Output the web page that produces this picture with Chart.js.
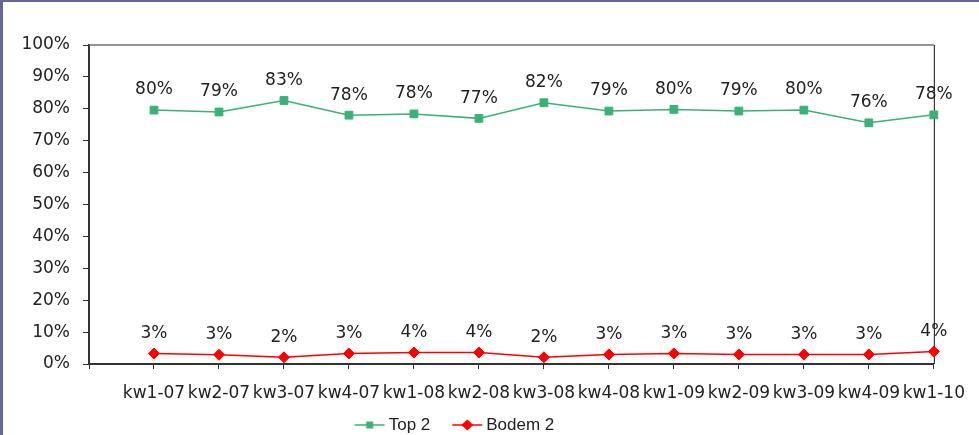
<!DOCTYPE html>
<html>
<head>
<meta charset="utf-8">
<script src="https://cdn.jsdelivr.net/npm/chart.js@4/dist/chart.umd.min.js"></script>
<style>
    html, body { margin: 0; padding: 0; background: #fff; overflow: hidden; }
    #wrap { position: relative; width: 979px; height: 435px; }
    #frame { position: absolute; left: 0; top: 0; width: 979px; height: 435px; box-sizing: border-box;
             border-left: 3px solid #66669a; border-top: 2px solid #66669a; pointer-events: none; }
</style>
</head>
<body>
<div id="wrap">
    <canvas id="chart" width="979" height="435"></canvas>
    <div id="frame"></div>
</div>
<script>
// Dados
const categories = ['kw1-07', 'kw2-07', 'kw3-07', 'kw4-07', 'kw1-08', 'kw2-08', 'kw3-08',
                    'kw4-08', 'kw1-09', 'kw2-09', 'kw3-09', 'kw4-09', 'kw1-10'];
const top2 = [79.6, 79.0, 82.6, 78.0, 78.4, 77.0, 81.9, 79.3, 79.8, 79.3, 79.6, 75.6, 78.1];
const bodem2 = [3.3, 2.9, 2.1, 3.3, 3.6, 3.6, 2.1, 3.0, 3.3, 3.0, 3.0, 3.0, 3.9];
const yTicks = [0, 10, 20, 30, 40, 50, 60, 70, 80, 90, 100];

const green = '#3bb273';
const red = '#ff0000';
const labelFont = '17px "DejaVu Sans"';

// primeira posição vazia (como no original, os pontos começam um passo depois do eixo)
const labels = [''].concat(categories);

// imagem da legenda: linha + marcador
const BW = 37.5;
function legendImage(color, marker) {
    const c = document.createElement('canvas');
    c.width = 64; c.height = 14;
    const g = c.getContext('2d');
    const cx = 32 + BW / 2;
    g.strokeStyle = color;
    g.globalAlpha = 0.75;
    g.lineWidth = 2;
    g.beginPath();
    g.moveTo(cx - 25.5, 7);
    g.lineTo(cx + 4.5, 7);
    g.stroke();
    g.globalAlpha = 1;
    g.fillStyle = color;
    const mx = cx - 10.5;
    if (marker === 'rect') {
        g.fillRect(mx - 3.5, 3.5, 7, 7);
    } else {
        g.beginPath();
        g.moveTo(mx - 6, 7); g.lineTo(mx, 1.5); g.lineTo(mx + 6, 7); g.lineTo(mx, 12.5);
        g.closePath(); g.fill();
    }
    return c;
}
const legendImgs = [legendImage(green, 'rect'), legendImage(red, 'diamond')];

// rótulos de valor acima dos pontos
const valueLabels = {
    id: 'valueLabels',
    afterDatasetsDraw(chart) {
        const ctx = chart.ctx;
        ctx.save();
        ctx.font = labelFont;
        ctx.fillStyle = '#222';
        ctx.textAlign = 'center';
        ctx.textBaseline = 'middle';
        chart.data.datasets.forEach((ds, i) => {
            chart.getDatasetMeta(i).data.forEach((pt, j) => {
                const v = ds.data[j];
                if (v == null) return;
                ctx.fillText(Math.round(v) + '%', pt.x, pt.y - 20);
            });
        });
        ctx.restore();
    }
};

// contorno superior e direito da área do gráfico
const plotBorder = {
    id: 'plotBorder',
    beforeDatasetsDraw(chart) {
        const a = chart.chartArea;
        const ctx = chart.ctx;
        ctx.save();
        ctx.lineWidth = 1.5;
        ctx.strokeStyle = '#707070';
        ctx.beginPath();
        ctx.moveTo(a.left, a.top);
        ctx.lineTo(a.right, a.top);
        ctx.stroke();
        ctx.lineWidth = 1;
        ctx.strokeStyle = '#111';
        ctx.beginPath();
        ctx.moveTo(a.right + 0.5, a.top);
        ctx.lineTo(a.right + 0.5, a.bottom);
        ctx.stroke();
        ctx.restore();
    }
};

const ctx = document.getElementById('chart').getContext('2d');
const chart = new Chart(ctx, {
    type: 'line',
    data: {
        labels: labels,
        datasets: [{
            label: 'Top 2',
            data: [null].concat(top2),
            borderColor: green,
            backgroundColor: green,
            borderWidth: 1.5,
            pointStyle: 'rect',
            pointRadius: 5.5,
            pointBorderWidth: 1,
            tension: 0
        }, {
            label: 'Bodem 2',
            data: [null].concat(bodem2),
            borderColor: red,
            backgroundColor: red,
            borderWidth: 1.5,
            pointStyle: 'rectRot',
            pointRadius: 5.5,
            pointBorderWidth: 1,
            tension: 0
        }]
    },
    options: {
        responsive: false,
        animation: false,
        layout: { padding: { top: 45, right: 39, left: -43, bottom: -8.5 } },
        scales: {
            x: {
                offset: false,
                grid: { drawOnChartArea: false, tickLength: 5, color: '#333', lineWidth: 1 },
                border: { color: '#333', width: 2 },
                ticks: { autoSkip: false, maxRotation: 0, padding: 14, color: '#222', font: { family: 'DejaVu Sans', size: 17 } },
                afterFit: s => { s.height = 42.5; }
            },
            y: {
                min: 0,
                max: 100,
                afterBuildTicks: s => { s.ticks = yTicks.map(v => ({ value: v })); },
                grid: { drawOnChartArea: false, tickLength: 6, color: '#333', lineWidth: 1 },
                border: { color: '#333', width: 2 },
                ticks: { padding: 13, color: '#222', font: { family: 'DejaVu Sans', size: 17 }, callback: v => v + '%' },
                afterFit: s => { s.width = 132; }
            }
        },
        plugins: {
            tooltip: { enabled: false },
            legend: {
                position: 'bottom',
                labels: {
                    usePointStyle: true,
                    pointStyleWidth: BW,
                    padding: 10,
                    color: '#222',
                    font: { family: 'Liberation Sans', size: 17 },
                    generateLabels: c => {
                        const items = Chart.defaults.plugins.legend.labels.generateLabels(c);
                        items.forEach((it, i) => { it.pointStyle = legendImgs[i]; });
                        return items;
                    }
                }
            }
        }
    },
    plugins: [plotBorder, valueLabels]
});
</script>
</body>
</html>
